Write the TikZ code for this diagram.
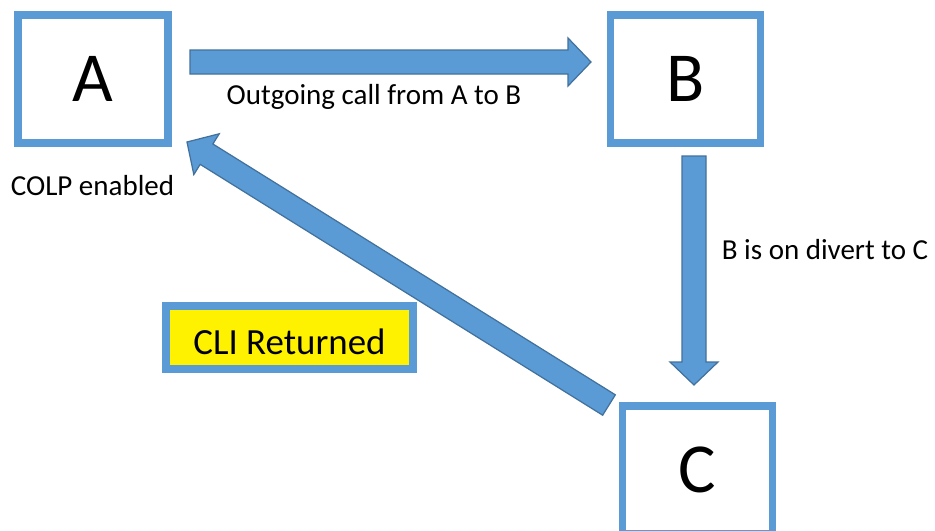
\documentclass[tikz,border=0pt]{standalone}
\usepackage{fontspec}
\setmainfont{Carlito}
\usetikzlibrary{positioning, calc}
\usepackage{xcolor}
\definecolor{boxblue}{HTML}{5B9BD5}
\definecolor{edgeblue}{HTML}{41719C}

% wide block arrow from #1 to #2 (tip at #2)
\newcommand{\blockarrow}[2]{%
  \coordinate (hb) at ($(#2)!0.46cm!(#1)$);
  \filldraw[fill=boxblue, draw=edgeblue, line width=0.7pt]
    ($(#1)!0.24cm!90:(#2)$) -- ($(hb)!0.24cm!90:(#2)$) --
    ($(hb)!0.48cm!90:(#2)$) -- (#2) -- ($(hb)!0.48cm!-90:(#2)$) --
    ($(hb)!0.24cm!-90:(#2)$) -- ($(#1)!0.24cm!-90:(#2)$) -- cycle;}

\begin{document}
\begin{tikzpicture}[
          party/.style={draw=boxblue, line width=4.5pt, fill=white,
                        minimum width=3.0cm, minimum height=2.56cm,
                        font=\fontsize{40}{48}\selectfont},
          lbl/.style={font=\fontsize{16.5}{20}\selectfont},
          tag/.style={draw=boxblue, line width=4.5pt, fill=yellow,
                      minimum width=4.94cm, minimum height=1.26cm,
                      text height=19.5pt, text depth=0pt,
                      font=\fontsize{21}{25}\selectfont}]
        \clip (0,0) rectangle (18.7,-10.62);
        \fill[white] (0,0) rectangle (18.7,-10.62);

        % the three parties
        \node[party] (A) at (1.86,-1.58) {A};
        \node[party] (B) at (13.71,-1.58) {B};
        \node[party] (C) at (13.95,-9.40) {C};
        \node[tag] (cli) at (5.79,-6.75) {CLI Returned\hspace{9pt}};

        % arrow ends
        \coordinate (ab-s) at (3.80,-1.24);
        \coordinate (ab-e) at (11.82,-1.24);
        \coordinate (bc-s) at (13.88,-3.12);
        \coordinate (bc-e) at (13.88,-7.70);
        \coordinate (ca-s) at (12.18,-8.10);
        \coordinate (ca-e) at (3.74,-2.84);

        \blockarrow{ab-s}{ab-e}
        \blockarrow{bc-s}{bc-e}
        \blockarrow{ca-s}{ca-e}

        \node[lbl] (call) at (7.48,-1.94) {Outgoing call from A to B};
        \node[lbl] (colp) at (1.85,-3.72) {COLP enabled};
        \node[lbl] (divert) at (16.50,-5.00) {B is on divert to C};
      \end{tikzpicture}
\end{document}
